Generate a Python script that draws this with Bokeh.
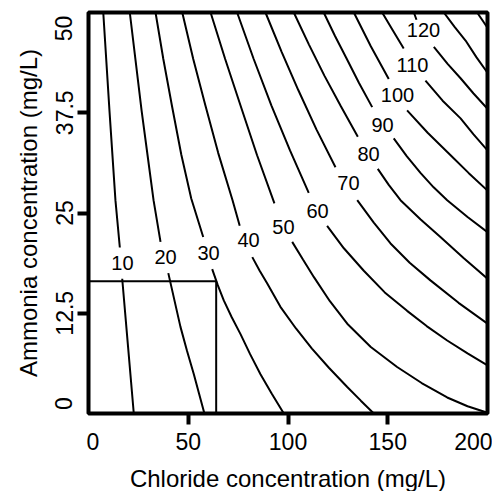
from bokeh.plotting import figure
from bokeh.models import FixedTicker, Range1d, ColumnDataSource
from bokeh.embed import file_html
from bokeh.resources import INLINE
from bokeh.core.properties import value

NaN = float("nan")
FONT = "Liberation Sans"

# axis ticks (marks) and tick labels; end labels sit inside the frame edges
x_tick_marks = [50, 100, 150]
y_tick_marks = [12.5, 25, 37.5]
x_label_pos = [2.25, 50, 100, 150, 193.1]
x_tick_labels = ["0", "50", "100", "150", "200"]
y_label_pos = [1.25, 12.5, 25, 37.5, 48.0]
y_tick_labels = ["0", "12.5", "25", "37.5", "50"]

# guideline box (chloride, ammonia limit)
box_chloride = 64
box_ammonia = 16.5

# contour lines (chloride, ammonia); NaN = gap for label
levels = [10, 20, 30, 40, 50, 60, 70, 80, 90, 100, 110, 120, 130, 140]
cl_10 = [7.4, 10.5, 13.5, 15.7, NaN, 16.9, 19.8, 22.7]
nh_10 = [50, 37.8, 26.6, 20.7, NaN, 16.8, 8.4, 0]
cl_20 = [20.7, 23.6, 26.6, 29.6, 32.6, 36.1, NaN, 40.0, 43.0, 46.1, 49.4, 52.8, 55.5, 58.1]
nh_20 = [50, 44.0, 37.8, 32.2, 26.6, 21.4, NaN, 17.5, 14.2, 10.8, 7.8, 4.9, 2.4, 0]
cl_30 = [33.6, 37.5, 41.8, 46.5, 51.5, 57.5, NaN, 62.0, 64.8, 67.8, 71.8, 76.2, 81.0, 86.2, 91.8, 97.9]
nh_30 = [50, 44.2, 38.4, 32.3, 26.8, 22.0, NaN, 18.0, 16.0, 14.1, 12.0, 9.9, 7.4, 4.9, 2.5, 0]
cl_40 = [47.0, 52.5, 58.6, 65.0, 72.2, 75.8, NaN, 82.1, 85.8, 89.6, 96.2, 104.0, 112.0, 120.5, 129.7, 136.5, 143.0]
nh_40 = [50, 44.2, 38.4, 32.5, 26.6, 23.4, NaN, 19.5, 17.8, 16.2, 13.3, 10.6, 8.1, 5.7, 3.3, 1.6, 0]
cl_50 = [61.2, 68.5, 76.2, 84.5, 93.2, NaN, 102.1, 107.5, 113.0, 121.0, 129.7, 141.5, 154.7, 167.0, 179.8, 190.0, 200]
nh_50 = [50, 44.2, 38.4, 32.2, 26.2, NaN, 21.4, 19.2, 17.0, 14.0, 11.2, 8.3, 5.8, 3.8, 2.0, 0.9, 0.1]
cl_60 = [74.5, 82.8, 91.7, 101.0, 110.4, NaN, 119.6, 128.0, 138.0, 148.5, 159.7, 169.5, 179.8, 190.0, 200]
nh_60 = [50, 44.2, 38.4, 32.8, 27.5, NaN, 23.4, 20.6, 17.8, 15.1, 12.8, 10.9, 9.1, 7.5, 6.0]
cl_70 = [88.7, 96.8, 105.2, 114.3, 123.8, NaN, 134.7, 143.0, 151.4, 161.0, 171.4, 185.5, 200]
nh_70 = [50, 45.1, 40.3, 35.4, 30.7, NaN, 26.6, 23.8, 21.2, 18.8, 16.6, 13.8, 11.2]
cl_80 = [102.9, 110.5, 118.3, 126.5, 135.0, NaN, 145.0, 150.5, 156.4, 166.5, 176.4, 188.0, 200]
nh_80 = [50, 46.0, 42.1, 38.3, 34.5, NaN, 30.5, 28.5, 26.6, 24.2, 22.0, 19.4, 16.8]
cl_90 = [117.9, 123.5, 129.3, 135.6, 142.2, NaN, 153.0, 159.5, 166.4, 173.0, 179.8, 190.0, 200]
nh_90 = [50, 47.1, 44.3, 41.2, 38.2, NaN, 34.3, 32.1, 30.0, 28.2, 26.6, 24.5, 22.6]
cl_100 = [133.0, 141.5, 150.5, NaN, 159.7, 170.0, 181.5, 190.5, 200]
nh_100 = [50, 45.8, 41.7, NaN, 37.8, 35.0, 32.2, 30.0, 27.8]
cl_110 = [147.2, 152.5, 158.0, NaN, 168.9, 177.5, 186.5, 193.0, 200]
nh_110 = [50, 47.8, 45.5, NaN, 41.5, 39.0, 36.8, 34.8, 32.8]
cl_120 = [163.1, 164.4, NaN, 173.1, 180.0, 186.5, 193.0, 200]
nh_120 = [50, 49.1, NaN, 45.7, 43.6, 41.8, 39.9, 38.0]
cl_130 = [178.1, 183.5, 189.0, 194.5, 200]
nh_130 = [50, 48.2, 46.5, 44.4, 42.5]
cl_140 = [194.8, 200]
nh_140 = [50, 48.1]

# contour label positions
label_text = ["10", "20", "30", "40", "50", "60", "70", "80", "90", "100", "110", "120"]
label_cl = [17.0, 38.6, 60.2, 80.2, 97.7, 114.8, 130.3, 140.4, 147.4, 154.9, 162.4, 167.9]
label_nh = [18.8, 19.5, 20.0, 21.6, 23.2, 25.3, 28.8, 32.4, 36.0, 39.7, 43.5, 47.8]

contours = [
    (cl_10, nh_10), (cl_20, nh_20), (cl_30, nh_30), (cl_40, nh_40),
    (cl_50, nh_50), (cl_60, nh_60), (cl_70, nh_70), (cl_80, nh_80),
    (cl_90, nh_90), (cl_100, nh_100), (cl_110, nh_110), (cl_120, nh_120),
    (cl_130, nh_130), (cl_140, nh_140),
]

p = figure(
    frame_width=399, frame_height=401,
    x_range=Range1d(0, 200), y_range=Range1d(0, 50),
    output_backend="svg", toolbar_location=None,
    min_border_left=88, min_border_right=5, min_border_top=12, min_border_bottom=72,
    x_axis_label="Chloride concentration (mg/L)",
    y_axis_label="Ammonia concentration (mg/L)",
)
p.background_fill_color = "white"
p.border_fill_color = "white"
p.outline_line_color = "black"
p.outline_line_width = 4
p.grid.visible = False

p.xaxis.ticker = FixedTicker(ticks=x_label_pos, minor_ticks=x_tick_marks)
p.yaxis.ticker = FixedTicker(ticks=y_label_pos, minor_ticks=y_tick_marks)
p.xaxis.major_label_overrides = dict(zip(x_label_pos, x_tick_labels))
p.yaxis.major_label_overrides = dict(zip(y_label_pos, y_tick_labels))
p.yaxis.major_label_orientation = "vertical"

for ax in (p.xaxis[0], p.yaxis[0]):
    ax.axis_line_color = None
    ax.major_tick_line_color = None
    ax.major_tick_out = 11
    ax.major_tick_in = 0
    ax.minor_tick_line_color = "black"
    ax.minor_tick_line_width = 4
    ax.minor_tick_out = 11
    ax.minor_tick_in = 0
    ax.major_label_text_font = FONT
    ax.major_label_text_font_size = "23px"
    ax.major_label_text_color = "black"
    ax.axis_label_text_font = FONT
    ax.axis_label_text_font_size = "24px"
    ax.axis_label_text_font_style = "normal"
    ax.axis_label_text_color = "black"
p.xaxis.major_label_standoff = 8
p.yaxis.major_label_standoff = 5
p.xaxis.axis_label_standoff = 12
p.yaxis.axis_label_standoff = 11

for cl, nh in contours:
    p.line(cl, nh, line_color="black", line_width=2)

p.line([0, box_chloride, box_chloride], [box_ammonia, box_ammonia, 0],
       line_color="black", line_width=2)

src = ColumnDataSource(dict(x=label_cl, y=label_nh, t=label_text))
p.text(x="x", y="y", text="t", source=src, text_font=value(FONT),
       text_font_size="20px", text_align="center", text_baseline="middle",
       text_color="black")

open("out.html", "w").write(file_html(p, INLINE))
